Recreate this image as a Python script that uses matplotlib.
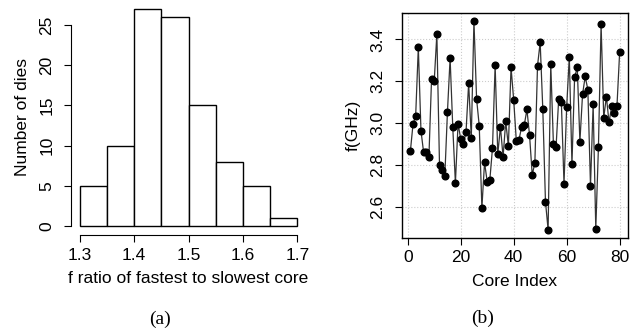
import numpy as np
import matplotlib
matplotlib.use("Agg")
import matplotlib.pyplot as plt

plt.rcParams['font.family'] = ['Liberation Sans', 'DejaVu Sans']

# (a) histogram of f ratio
bin_edges = [1.30, 1.35, 1.40, 1.45, 1.50, 1.55, 1.60, 1.65, 1.70]
die_counts = [5, 10, 27, 26, 15, 8, 5, 1]

# (b) per-core frequency
core_index = list(range(1, 81))
core_freq = [
    2.865, 2.995, 3.035, 3.362, 2.963, 2.860, 2.860, 2.838, 3.213, 3.200,
    3.425, 2.798, 2.774, 2.745, 3.054, 3.310, 2.982, 2.713, 2.997, 2.925,
    2.900, 2.955, 3.190, 2.930, 3.489, 3.115, 2.987, 2.594, 2.812, 2.720,
    2.728, 2.880, 3.277, 2.852, 2.981, 2.838, 3.008, 2.890, 3.267, 3.111,
    2.914, 2.919, 2.982, 2.990, 3.065, 2.941, 2.752, 2.809, 3.274, 3.386,
    3.065, 2.624, 2.490, 3.282, 2.900, 2.885, 3.116, 3.100, 2.710, 3.075,
    3.317, 2.803, 3.218, 3.267, 2.911, 3.137, 3.223, 3.160, 2.700, 3.089,
    2.494, 2.885, 3.473, 3.025, 3.126, 3.003, 3.080, 3.050, 3.083, 3.338,
]

W, H = 634, 329
FS = 12.5
fig = plt.figure(figsize=(W / 100, H / 100), dpi=100)

def r_lim(lo, hi):
    pad = (hi - lo) * 0.04
    return lo - pad, hi + pad

# ---- (a) ----
ax1 = fig.add_axes([71 / W, 1 - 235 / H, (306 - 71) / W, 235 / H])
widths = np.diff(bin_edges)
ax1.bar(bin_edges[:-1], die_counts, width=widths, align='edge',
        facecolor='white', edgecolor='black', linewidth=1.0)
ax1.set_xlim(*r_lim(bin_edges[0], bin_edges[-1]))
ax1.set_ylim(*r_lim(0, max(die_counts)))
for s in ['top', 'right']:
    ax1.spines[s].set_visible(False)
ax1.spines['bottom'].set_bounds(1.3, 1.7)
ax1.spines['left'].set_bounds(0, 25)
ax1.set_xticks([1.3, 1.4, 1.5, 1.6, 1.7])
ax1.set_yticks([0, 5, 10, 15, 20, 25])
ax1.set_yticklabels(['0', '5', '10', '15', '20', '25'], rotation=90, va='center')
ax1.tick_params(direction='out', length=5, width=0.8, labelsize=FS)
ax1.tick_params(axis='x', pad=4)
ax1.tick_params(axis='y', pad=7)
ax1.set_xlabel('f ratio of fastest to slowest core', fontsize=FS, labelpad=6)
ax1.set_ylabel('Number of dies', fontsize=FS, labelpad=7)

# ---- (b) ----
ax2 = fig.add_axes([402 / W, 1 - 238 / H, (628 - 402) / W, (238 - 12.5) / H])
ax2.plot(core_index, core_freq, color='#333333', linewidth=0.9,
         marker='o', markersize=4.8, markerfacecolor='black', markeredgecolor='black')
ax2.set_xlim(*r_lim(min(core_index), max(core_index)))
ax2.set_ylim(*r_lim(min(core_freq), max(core_freq)))
ax2.set_xticks([0, 20, 40, 60, 80])
ax2.set_yticks([2.6, 2.8, 3.0, 3.2, 3.4])
ax2.set_yticklabels(['2.6', '2.8', '3.0', '3.2', '3.4'], rotation=90, va='center')
ax2.grid(True, color='#cccccc', linestyle=':', linewidth=0.8)
ax2.set_axisbelow(True)
for s in ax2.spines.values():
    s.set_linewidth(1.0)
ax2.tick_params(direction='out', length=5, width=0.8, labelsize=FS)
ax2.tick_params(axis='x', pad=4)
ax2.tick_params(axis='y', pad=7)
ax2.set_xlabel('Core Index', fontsize=FS, labelpad=6)
ax2.set_ylabel('f(GHz)', fontsize=FS, labelpad=7)

fig.text(160 / W, 1 - 319 / H, '(a)', family='Liberation Serif', fontsize=14,
         ha='center', va='center')
fig.text(483 / W, 1 - 318 / H, '(b)', family='Liberation Serif', fontsize=14,
         ha='center', va='center')

fig.savefig('out.png', dpi=100)
